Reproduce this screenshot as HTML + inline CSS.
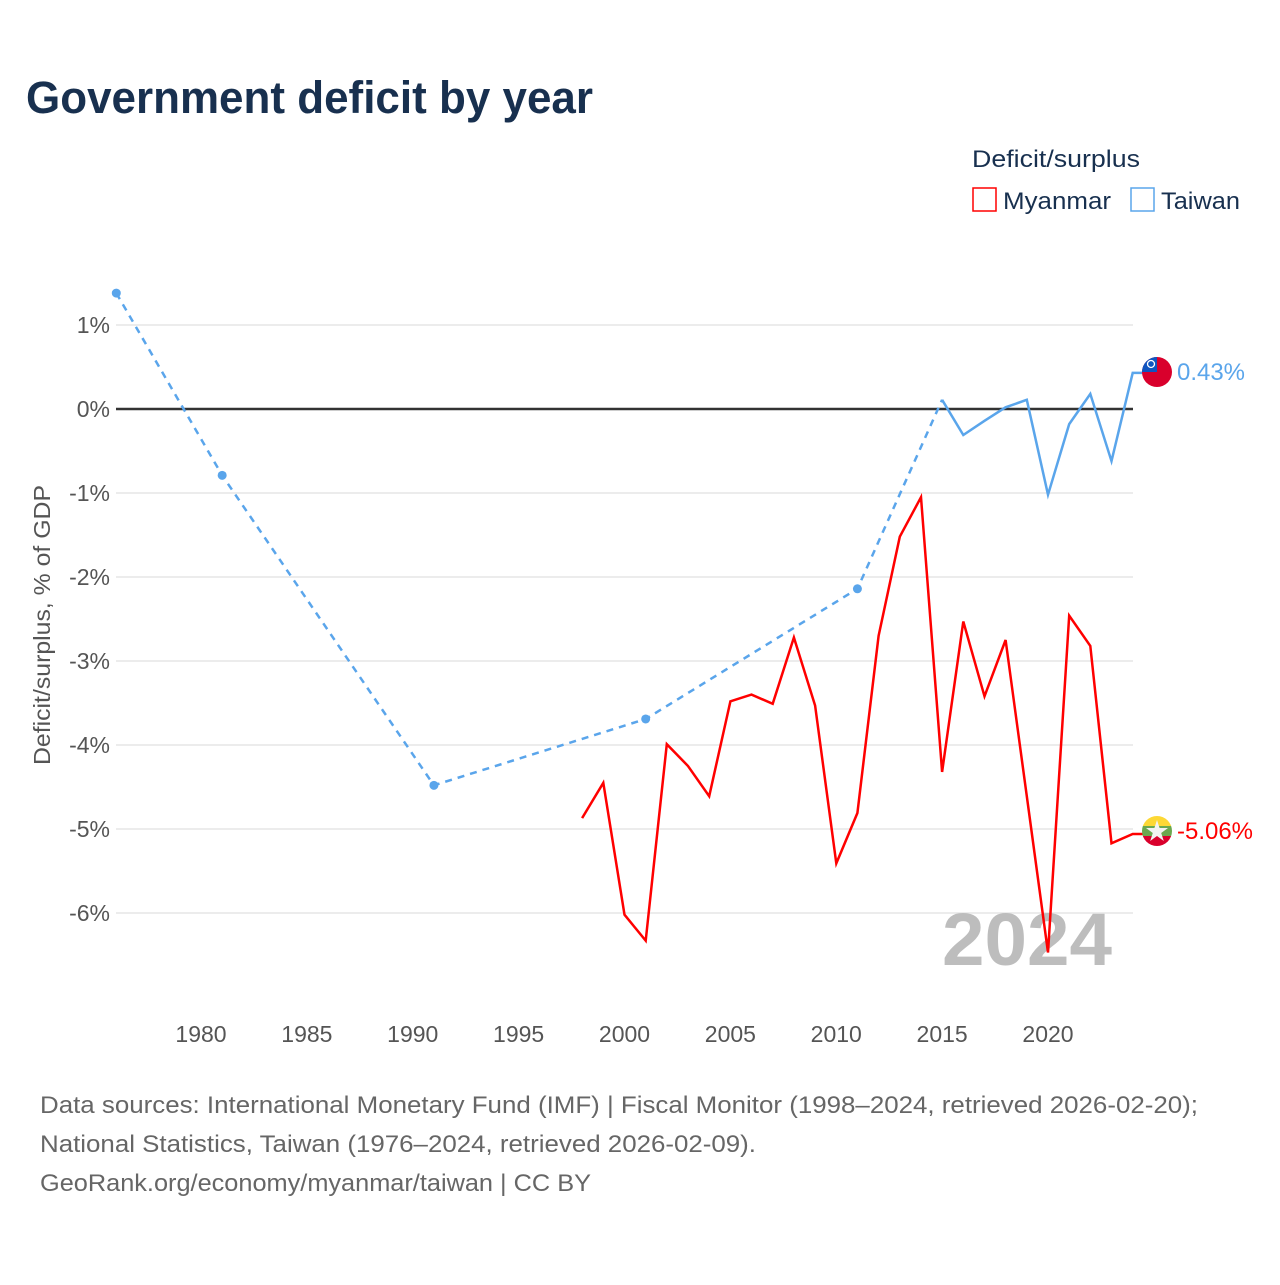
<!DOCTYPE html>
<html><head><meta charset="utf-8">
<style>
body{margin:0;background:#fff;width:1280px;height:1280px;overflow:hidden;font-family:"Liberation Sans",sans-serif;}
svg text{font-family:"Liberation Sans",sans-serif;}
</style></head>
<body>
<svg id="chart" width="1280" height="1280" viewBox="0 0 1280 1280">
<text x="26" y="113" font-size="45" font-weight="bold" fill="#18304f" textLength="567" lengthAdjust="spacingAndGlyphs">Government deficit by year</text>
<g>
<text x="972" y="167" font-size="24" fill="#18304f" textLength="168" lengthAdjust="spacingAndGlyphs">Deficit/surplus</text>
<g><rect x="973" y="188" width="23" height="23" fill="none" stroke="#ff0000" stroke-width="1.5"/><text x="1003" y="209" font-size="24" fill="#18304f" textLength="108" lengthAdjust="spacingAndGlyphs">Myanmar</text></g>
<g><rect x="1131" y="188" width="23" height="23" fill="none" stroke="#5aa5eb" stroke-width="1.5"/><text x="1161" y="209" font-size="24" fill="#18304f" textLength="79" lengthAdjust="spacingAndGlyphs">Taiwan</text></g>
</g>
<g id="grid"></g>
<g id="yticks"></g>
<g id="xticks"></g>
<text transform="translate(50,625) rotate(-90)" text-anchor="middle" font-size="23" fill="#555" textLength="280" lengthAdjust="spacingAndGlyphs">Deficit/surplus, % of GDP</text>
<text x="1112" y="965" text-anchor="end" font-size="74" font-weight="bold" fill="#bdbdbd" textLength="170" lengthAdjust="spacingAndGlyphs">2024</text>
<g id="series"></g>
<g>
<clipPath id="cT"><circle cx="1157" cy="372" r="15"/></clipPath>
<g clip-path="url(#cT)"><rect x="1142" y="357" width="30" height="30" fill="#d9002c"/><rect x="1142" y="357" width="15" height="15" fill="#0f55c0"/><circle cx="1151" cy="364" r="3.5" fill="none" stroke="#fff" stroke-width="1.3"/></g></g>
<g>
<clipPath id="cM"><circle cx="1157" cy="831" r="15"/></clipPath>
<g clip-path="url(#cM)"><rect x="1142" y="816" width="30" height="10" fill="#fdd835"/><rect x="1142" y="826" width="30" height="10" fill="#6aa84f"/><rect x="1142" y="836" width="30" height="11" fill="#d9002c"/>
<polygon points="1157,820 1159.6,828 1168,828 1161.2,833 1163.8,841 1157,836 1150.2,841 1152.8,833 1146,828 1154.4,828" fill="#f2f2f2"/></g></g>
<text x="1177" y="380" font-size="24" fill="#5aa5eb" textLength="68" lengthAdjust="spacingAndGlyphs">0.43%</text>
<text x="1177" y="839" font-size="24" fill="#ff0000" textLength="76" lengthAdjust="spacingAndGlyphs">-5.06%</text>
<g font-size="24" fill="#666">
<text x="40" y="1113" textLength="1158" lengthAdjust="spacingAndGlyphs">Data sources: International Monetary Fund (IMF) | Fiscal Monitor (1998–2024, retrieved 2026-02-20);</text>
<text x="40" y="1152" textLength="716" lengthAdjust="spacingAndGlyphs">National Statistics, Taiwan (1976–2024, retrieved 2026-02-09).</text>
<text x="40" y="1191" textLength="551" lengthAdjust="spacingAndGlyphs">GeoRank.org/economy/myanmar/taiwan | CC BY</text>
</g>
</svg>
<script>
const yTicks=[1,0,-1,-2,-3,-4,-5,-6];
const xTicks=[1980,1985,1990,1995,2000,2005,2010,2015,2020];
const twYears=[1976,1981,1991,2001,2011,2015,2016,2017,2018,2019,2020,2021,2022,2023,2024];
const twValues=[1.38,-0.79,-4.48,-3.69,-2.14,0.11,-0.31,-0.14,0.02,0.11,-1.02,-0.18,0.18,-0.62,0.43];
const mmYears=[1998,1999,2000,2001,2002,2003,2004,2005,2006,2007,2008,2009,2010,2011,2012,2013,2014,2015,2016,2017,2018,2019,2020,2021,2022,2023,2024];
const mmValues=[-4.87,-4.45,-6.02,-6.33,-3.99,-4.25,-4.61,-3.48,-3.40,-3.51,-2.72,-3.53,-5.41,-4.81,-2.70,-1.52,-1.05,-4.32,-2.53,-3.42,-2.75,-4.61,-6.47,-2.46,-2.82,-5.17,-5.06];
const NS='http://www.w3.org/2000/svg';
const X=y=>1048+(y-2020)*21.175;
const Y=v=>409-v*84;
function mk(tag,attrs,parent){const e=document.createElementNS(NS,tag);for(const k in attrs)e.setAttribute(k,attrs[k]);parent.appendChild(e);return e;}
const grid=document.getElementById('grid'),yt=document.getElementById('yticks'),xt=document.getElementById('xticks'),ser=document.getElementById('series');
yTicks.forEach(v=>{
 const l=mk('line',{x1:116,x2:1133,y1:Y(v),y2:Y(v),stroke:v===0?'#333':'#e6e6e6','stroke-width':v===0?2.5:1.5},grid);
 
 
 const t=mk('text',{x:110,y:Y(v)+8,'text-anchor':'end','font-size':23,fill:'#555'},yt);
 t.textContent=v+'%';
 
 
});
xTicks.forEach(v=>{
 const t=mk('text',{x:X(v),y:1042,'text-anchor':'middle','font-size':23,fill:'#555'},xt);
 t.textContent=v;
 
 
});
function path(ys,vs,i0,i1){let d='';for(let i=i0;i<=i1;i++)d+=(i===i0?'M':'L')+X(ys[i]).toFixed(1)+','+Y(vs[i]).toFixed(1);return d;}
const si=twYears.indexOf(2015);
const td=mk('path',{d:path(twYears,twValues,0,si),fill:'none',stroke:'#5aa5eb','stroke-width':2.5,'stroke-dasharray':'7,6'},ser);


const ts=mk('path',{d:path(twYears,twValues,si,twYears.length-1)+'L1143,'+Y(twValues[twValues.length-1]).toFixed(1),fill:'none',stroke:'#5aa5eb','stroke-width':2.5},ser);


for(let i=0;i<si;i++){
 const c=mk('circle',{cx:X(twYears[i]),cy:Y(twValues[i]),r:4.5,fill:'#5aa5eb'},ser);
 
 
}
const ml=mk('path',{d:path(mmYears,mmValues,0,mmYears.length-1)+'L1143,'+Y(mmValues[mmValues.length-1]).toFixed(1),fill:'none',stroke:'#ff0000','stroke-width':2.5,'stroke-linejoin':'miter'},ser);


</script>
</body></html>
